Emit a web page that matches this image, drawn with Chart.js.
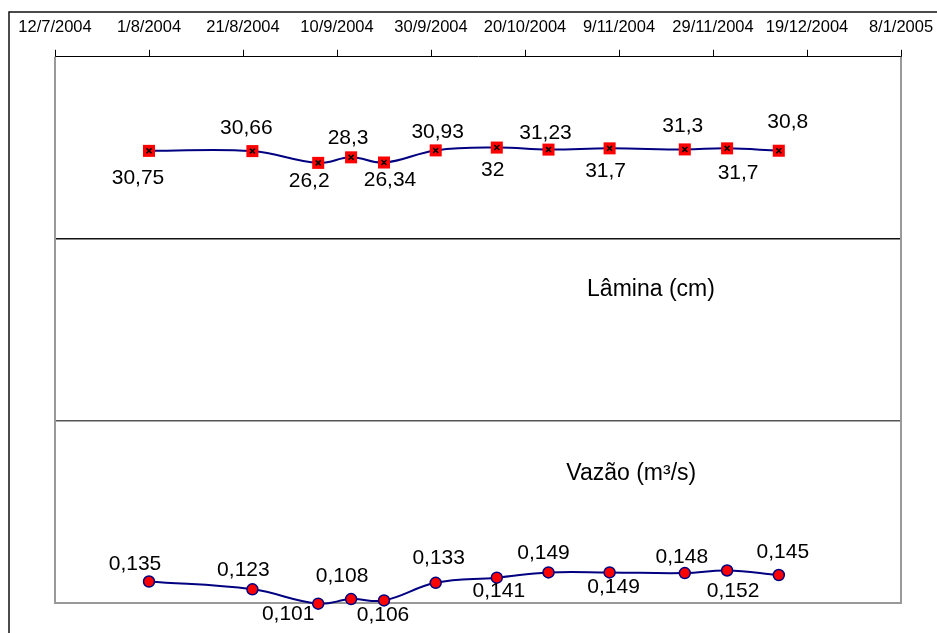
<!DOCTYPE html>
<html>
<head>
<meta charset="utf-8">
<script src="https://cdn.jsdelivr.net/npm/chart.js@4"></script>
<style>
  body { margin: 0; background: #fff; }
  canvas { display: block; }
</style>
</head>
<body>
<canvas id="chart" width="937" height="633"></canvas>
<script>
// datas das medições (d/m/aaaa)
const datas = ['1/8/2004', '23/8/2004', '6/9/2004', '13/9/2004', '20/9/2004', '1/10/2004',
               '14/10/2004', '25/10/2004', '7/11/2004', '23/11/2004', '2/12/2004', '13/12/2004'];
const lamina = [30.75, 30.66, 26.2, 28.3, 26.34, 30.93, 32, 31.23, 31.7, 31.3, 31.7, 30.8];
const vazao = [0.135, 0.123, 0.101, 0.108, 0.106, 0.133, 0.141, 0.149, 0.149, 0.148, 0.152, 0.145];
const inicio = '12/7/2004';   // primeiro tick do eixo
const passoDias = 20;
const totalDias = 180;

// deslocamento dos rótulos em relação ao ponto [dx, dy]
const offLamina = [[-11, 27], [-6, -23], [-9, 18], [-3, -19], [6, 18], [2, -18],
                   [-4, 23], [-3, -16], [-4, 23], [-2, -23], [11, 25], [9, -29]];
const offVazao = [[-14, -17], [-9, -19], [-30, 11], [-9, -23], [-1, 15], [3, -25],
                  [2, 14], [-5, -19], [4, 15], [-3, -16], [6, 21], [4, -23]];

function parseData(s) {
    const [d, m, a] = s.split('/').map(Number);
    return Date.UTC(a, m - 1, d);
}
const DIA = 86400000;
const t0 = parseData(inicio);
const dias = datas.map(s => Math.round((parseData(s) - t0) / DIA));
const fmtData = v => {
    const d = new Date(t0 + v * DIA);
    return d.getUTCDate() + '/' + (d.getUTCMonth() + 1) + '/' + d.getUTCFullYear();
};
const virgula = v => String(v).replace('.', ',');

const ptsLamina = dias.map((x, i) => ({ x: x, y: lamina[i] }));
const ptsVazao = dias.map((x, i) => ({ x: x, y: vazao[i] }));

const molduraPlugin = {
    id: 'moldura',
    beforeDraw(chart) {
        const ctx = chart.ctx;
        ctx.save();
        ctx.fillStyle = '#fff';
        ctx.fillRect(0, 0, chart.width, chart.height);
        ctx.strokeStyle = '#111';
        ctx.lineWidth = 1.5;
        ctx.beginPath();
        ctx.moveTo(9, chart.height);
        ctx.lineTo(9, 12);
        ctx.lineTo(chart.width, 12);
        ctx.stroke();
        ctx.restore();
    },
    beforeDatasetsDraw(chart) {
        const a = chart.chartArea, ctx = chart.ctx;
        ctx.save();
        ctx.strokeStyle = '#999';
        ctx.lineWidth = 2;
        ctx.beginPath();
        ctx.moveTo(a.left, a.top);
        ctx.lineTo(a.left, a.bottom);
        ctx.lineTo(a.right, a.bottom);
        ctx.lineTo(a.right, a.top);
        ctx.stroke();
        ctx.restore();
    }
};

const rotulosPlugin = {
    id: 'rotulos',
    afterDatasetsDraw(chart) {
        const ctx = chart.ctx;
        ctx.save();
        ctx.fillStyle = '#000';
        ctx.textAlign = 'center';
        ctx.textBaseline = 'middle';
        ctx.font = '21px "Liberation Sans", Arial, sans-serif';
        [[0, lamina, offLamina], [2, vazao, offVazao]].forEach(([idx, vals, offs]) => {
            chart.getDatasetMeta(idx).data.forEach((p, i) => {
                ctx.fillText(virgula(vals[i]), p.x + offs[i][0], p.y + offs[i][1]);
            });
        });
        // nomes das séries
        const xs = chart.scales.x, gs = chart.scales.grade;
        ctx.font = '23px "Liberation Sans", Arial, sans-serif';
        ctx.fillText('Lâmina (cm)', xs.getPixelForValue(126.8), gs.getPixelForValue(1.72));
        ctx.fillText('Vazão (m³/s)', xs.getPixelForValue(122.6), gs.getPixelForValue(0.71));
        ctx.restore();
    }
};

new Chart(document.getElementById('chart'), {
    type: 'line',
    data: {
        datasets: [{
            label: 'Lâmina (cm)',
            data: ptsLamina,
            yAxisID: 'yLamina',
            order: 1,
            borderColor: '#000080',
            borderWidth: 2,
            tension: 0.4,
            pointStyle: 'rect',
            pointRadius: 8.5,
            pointBackgroundColor: '#ff0000',
            pointBorderColor: '#ff0000',
            pointBorderWidth: 0,
            clip: false
        }, {
            label: 'marca',
            data: ptsLamina,
            yAxisID: 'yLamina',
            order: 0,
            showLine: false,
            pointStyle: 'crossRot',
            pointRadius: 3.5,
            pointBorderColor: '#000',
            pointBorderWidth: 1.5,
            clip: false
        }, {
            label: 'Vazão (m³/s)',
            data: ptsVazao,
            yAxisID: 'yVazao',
            order: 1,
            borderColor: '#000080',
            borderWidth: 2,
            tension: 0.4,
            pointStyle: 'circle',
            pointRadius: 5.5,
            pointBackgroundColor: '#ff0000',
            pointBorderColor: '#000080',
            pointBorderWidth: 1.5,
            clip: false
        }]
    },
    options: {
        responsive: false,
        animation: false,
        devicePixelRatio: 1,
        layout: { padding: { left: 55, right: 36, top: 6, bottom: 30 } },
        plugins: { legend: { display: false }, tooltip: { enabled: false } },
        scales: {
            x: {
                type: 'linear',
                position: 'top',
                min: 0,
                max: totalDias,
                afterFit: s => { s.paddingLeft = 0; s.paddingRight = 0; },
                border: { color: '#000', width: 1 },
                grid: { drawOnChartArea: false, drawTicks: true, tickLength: 7, color: '#000' },
                ticks: {
                    stepSize: passoDias,
                    autoSkip: false,
                    maxRotation: 0,
                    padding: 12,
                    color: '#000',
                    font: { family: '"Liberation Sans", Arial, sans-serif', size: 16.5 },
                    callback: v => fmtData(v)
                }
            },
            grade: {
                type: 'linear',
                position: 'left',
                min: 0,
                max: 3,
                border: { display: false },
                ticks: { display: false, stepSize: 1 },
                grid: {
                    drawTicks: false,
                    lineWidth: 1.5,
                    color: c => c.tick.value === 1 ? '#555' : (c.tick.value === 2 ? '#111' : 'transparent')
                }
            },
            yLamina: { display: false, min: -140.6, max: 66.4 },
            yVazao: { display: false, min: 0.102, max: 0.942 }
        }
    },
    plugins: [molduraPlugin, rotulosPlugin]
});
</script>
</body>
</html>
